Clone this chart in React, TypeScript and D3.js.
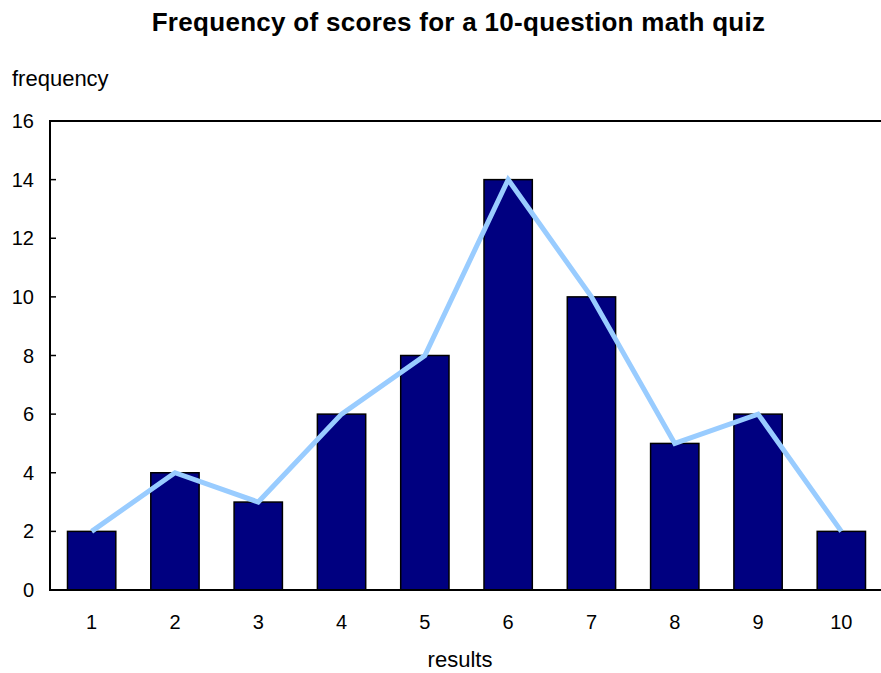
import React, { useEffect, useRef } from "react";
import * as d3 from "d3";

const scores = ["1", "2", "3", "4", "5", "6", "7", "8", "9", "10"];
const frequencies = [2, 4, 3, 6, 8, 14, 10, 5, 6, 2];
const yTicks = [0, 2, 4, 6, 8, 10, 12, 14, 16];

const App = () => {
  const svgRef = useRef<SVGSVGElement>(null);

  useEffect(() => {
    const width = 881;
    const height = 673;
    const margin = { top: 121, right: -2, bottom: 83, left: 50 };
    const font = "'Liberation Sans', Arial, Helvetica, sans-serif";

    const svg = d3.select(svgRef.current).attr("width", width).attr("height", height);
    svg.selectAll("*").remove();

    const x = d3
      .scaleBand()
      .domain(scores)
      .range([margin.left, width - margin.right])
      .paddingInner(0.42)
      .paddingOuter(0.21);

    const y = d3
      .scaleLinear()
      .domain([0, 16])
      .range([height - margin.bottom, margin.top]);

    // bars
    svg
      .append("g")
      .selectAll("rect")
      .data(frequencies)
      .join("rect")
      .attr("x", (_, i) => x(scores[i])!)
      .attr("y", (d) => y(d))
      .attr("width", x.bandwidth())
      .attr("height", (d) => y(0) - y(d))
      .attr("fill", "#000080")
      .attr("stroke", "#000")
      .attr("stroke-width", 1.5);

    // frequency polygon
    const line = d3
      .line<number>()
      .x((_, i) => x(scores[i])! + x.bandwidth() / 2)
      .y((d) => y(d));

    svg
      .append("path")
      .datum(frequencies)
      .attr("d", line)
      .attr("fill", "none")
      .attr("stroke", "#99ccff")
      .attr("stroke-width", 5)
      .attr("stroke-linejoin", "miter");

    // frame: left, top, bottom
    const frame = svg.append("g").attr("stroke", "#000").attr("stroke-width", 2);
    frame
      .append("line")
      .attr("x1", margin.left)
      .attr("x2", margin.left)
      .attr("y1", y(16))
      .attr("y2", y(0));
    frame
      .append("line")
      .attr("x1", margin.left - 1)
      .attr("x2", width)
      .attr("y1", y(16))
      .attr("y2", y(16));
    frame
      .append("line")
      .attr("x1", margin.left - 1)
      .attr("x2", width)
      .attr("y1", y(0))
      .attr("y2", y(0));

    // y axis ticks (inward) + labels
    const yAxis = svg.append("g");
    yAxis
      .selectAll("line")
      .data(yTicks)
      .join("line")
      .attr("x1", margin.left)
      .attr("x2", margin.left + 6)
      .attr("y1", (d) => y(d))
      .attr("y2", (d) => y(d))
      .attr("stroke", "#000")
      .attr("stroke-width", 1.5);
    yAxis
      .selectAll("text")
      .data(yTicks)
      .join("text")
      .attr("x", 34)
      .attr("y", (d) => y(d))
      .attr("dy", "0.35em")
      .attr("text-anchor", "end")
      .attr("font-family", font)
      .attr("font-size", 20)
      .text((d) => d);

    // x labels
    svg
      .append("g")
      .selectAll("text")
      .data(scores)
      .join("text")
      .attr("x", (d) => x(d)! + x.bandwidth() / 2)
      .attr("y", 629)
      .attr("text-anchor", "middle")
      .attr("font-family", font)
      .attr("font-size", 20)
      .text((d) => d);

    svg
      .append("text")
      .attr("x", 458.5)
      .attr("y", 31)
      .attr("text-anchor", "middle")
      .attr("font-family", font)
      .attr("font-size", 26)
      .attr("font-weight", "bold")
      .attr("letter-spacing", 0.3)
      .text("Frequency of scores for a 10-question math quiz");

    svg
      .append("text")
      .attr("x", 12)
      .attr("y", 86)
      .attr("font-family", font)
      .attr("font-size", 22)
      .text("frequency");

    svg
      .append("text")
      .attr("x", 460)
      .attr("y", 667)
      .attr("text-anchor", "middle")
      .attr("font-family", font)
      .attr("font-size", 22)
      .text("results");
  }, []);

  return (
    <div style={{ position: "absolute", left: 0, top: 0, background: "#fff" }}>
      <svg ref={svgRef} style={{ display: "block" }} />
    </div>
  );
};

export default App;
